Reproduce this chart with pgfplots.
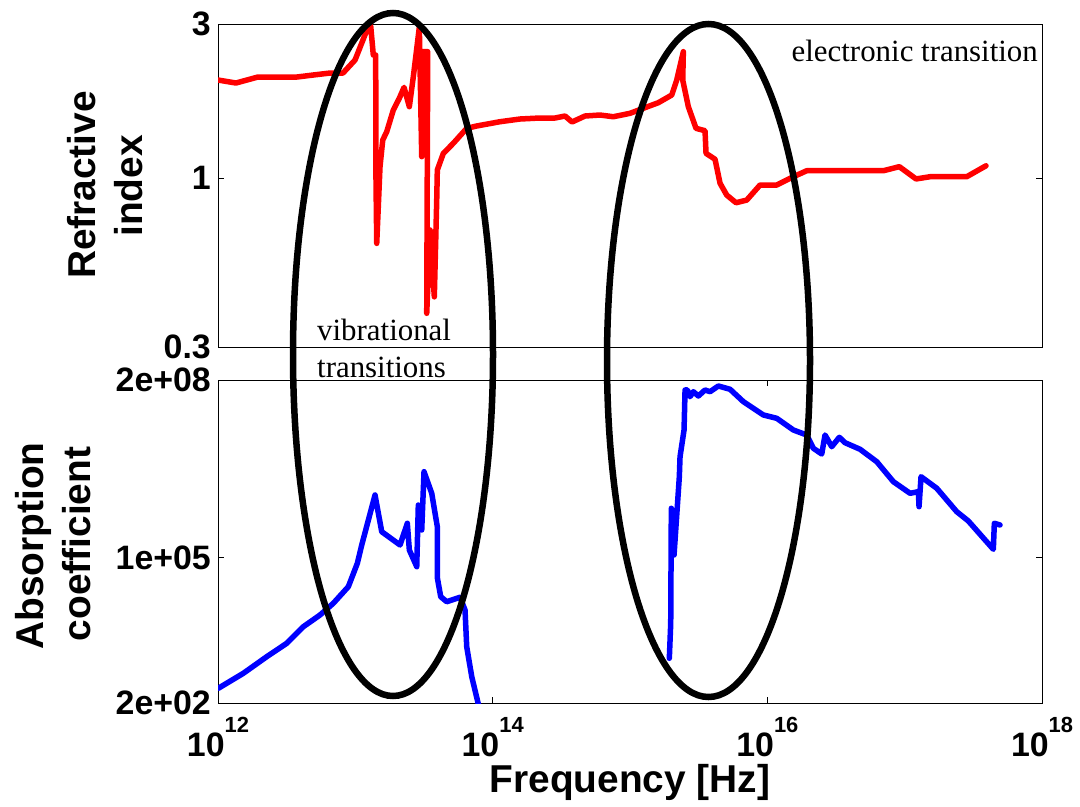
\documentclass[border=0pt]{standalone}
\usepackage{fontspec}
\setmainfont{Liberation Sans}
\newfontfamily\seriffont{Liberation Serif}
\usepackage{pgfplots}
\pgfplotsset{compat=1.18}

\newcommand\labfont{\fontsize{39}{47}\selectfont\bfseries}
\newcommand\tickfont{\fontsize{34}{34}\selectfont\bfseries}
\newcommand\annfont{\seriffont\fontsize{31}{37}\selectfont}
\newcommand\dec[1]{10\raisebox{24bp}{\fontsize{22}{22}\selectfont #1}}

\pgfplotsset{
  panelbox/.style={
    scale only axis, width=824bp, height=323bp,
    xmin=1e12, xmax=1e18,
    axis line style={line width=1bp},
    every tick/.style={black, line width=0.8bp},
    major tick length=6bp,
    tick align=inside, tick pos=both,
    minor tick num=0,
    ticklabel style={font=\tickfont},
    yticklabel style={anchor=east, inner sep=0pt},
    yticklabel shift=7bp,
  },
  curve/.style={line width=5.5bp, line join=round, line cap=round},
}
\tikzset{declabel/.style={anchor=base, inner sep=0pt, font=\tickfont, yshift=-53bp}}

\begin{document}
\begin{tikzpicture}
\useasboundingbox (0,0) rectangle (1080bp,-807bp);

% refractive index
\begin{axis}[xmode=log, ymode=log, panelbox, at={(218bp,-347bp)}, anchor=south west,
  ymin=0.3, ymax=3, ytick={0.3,1,3}, yticklabels={0.3,1,3},
  xtick=\empty]
\addplot[curve, red] coordinates {
(1.0e12,2.012) (1.35e12,1.970) (1.955e12,2.056) (3.76e12,2.056) (4.92e12,2.085)
(6.54e12,2.115) (8.13e12,2.115) (9.95e12,2.321) (1.243e13,2.95) (1.294e13,2.95)
(1.351e13,2.405) (1.407e13,2.405) (1.410e13,1.085) (1.431e13,0.628) (1.512e13,1.085)
(1.583e13,1.312) (1.692e13,1.392) (1.890e13,1.625) (2.090e13,1.767) (2.262e13,1.910)
(2.472e13,1.664) (2.643e13,2.060) (2.923e13,2.93) (3.043e13,1.165) (3.095e13,2.463)
(3.365e13,2.463) (3.309e13,0.3815) (3.498e13,0.691) (3.758e13,0.429) (3.913e13,0.855)
(3.953e13,1.060) (4.372e13,1.193) (5.169e13,1.282) (6.47e13,1.426) (7.65e13,1.450)
(1.131e14,1.495) (1.581e14,1.524) (2.212e14,1.535) (2.844e14,1.535) (3.364e14,1.557)
(3.782e14,1.492) (4.704e14,1.557) (6.046e14,1.568) (7.56e14,1.549) (1.0e15,1.587)
(1.250e15,1.645) (1.607e15,1.712) (2.012e15,1.808) (2.188e15,2.012) (2.445e15,2.463)
(2.420e15,2.012) (2.658e15,1.664) (3.024e15,1.426) (3.517e15,1.402) (3.577e15,1.193)
(4.159e15,1.144) (4.523e15,0.964) (5.06e15,0.886) (5.916e15,0.839) (7.077e15,0.855)
(8.845e15,0.952) (1.170e16,0.952) (1.546e16,1.010) (1.935e16,1.054) (6.99e16,1.054)
(9.14e16,1.085) (1.210e17,0.994) (1.530e17,1.010) (2.83e17,1.010) (3.91e17,1.092)
};
\end{axis}

% absorption coefficient
\begin{axis}[xmode=log, ymode=log, panelbox, at={(218bp,-703bp)}, anchor=south west,
  clip mode=individual,
  ymin=200, ymax=2e8, ytick={200,1e5,2e8}, yticklabels={2e+02,1e+05,2e+08},
  xtick={1e12,1e14,1e16,1e18}, xticklabels={},
  xlabel={Frequency [Hz]},
  xlabel style={at={(axis description cs:0.5,-0.276)}, anchor=base, font=\labfont}]
\addplot[curve, blue] coordinates {
(1.005e12,375) (1.528e12,712) (2.262e12,1449) (3.164e12,2570) (4.180e12,5229)
(5.53e12,8627) (6.91e12,14230) (8.89e12,28940) (1.034e13,78760) (1.113e13,1.723e5)
(1.391e13,1.462e6) (1.556e13,3.042e5) (2.115e13,1.723e5) (2.390e13,4.359e5) (2.472e13,1.391e5)
(2.799e13,68100) (2.874e13,9.53e5) (3.043e13,3.272e5) (3.162e13,3.963e6) (3.598e13,1.573e6)
(3.953e13,3.768e5) (3.96e13,41450) (4.184e13,18870) (4.627e13,15230) (5.783e13,18390)
(6.29e13,10680) (6.47e13,2223) (7.04e13,616) (8.04e13,150)
};
\addplot[curve, blue] coordinates {
(1.933e15,1353) (1.979e15,6047) (1.999e15,8.277e5) (2.092e15,1.123e5) (2.286e15,3.199e6)
(2.313e15,7.524e6) (2.474e15,2.358e7) (2.516e15,1.305e8) (2.615e15,1.305e8) (2.735e15,9.80e7)
(2.891e15,1.213e8) (3.144e15,1.009e8) (3.517e15,1.305e8) (3.824e15,1.213e8) (4.397e15,1.548e8)
(5.35e15,1.345e8) (6.69e15,7.913e7) (9.35e15,4.479e7) (1.170e16,3.89e7) (1.546e16,2.358e7)
(1.935e16,1.904e7) (2.161e16,1.078e7) (2.489e16,8.45e6) (2.630e16,1.904e7) (2.943e16,1.154e7)
(3.343e16,1.726e7) (3.678e16,1.369e7) (4.73e16,1.033e7) (6.26e16,6.076e6) (8.27e16,2.583e6)
(1.094e17,1.573e6) (1.257e17,1.684e6) (1.272e17,8.86e5) (1.315e17,3.199e6) (1.712e17,1.948e6)
(2.393e17,7.157e5) (2.907e17,4.808e5) (4.42e17,1.433e5) (4.496e17,4.359e5) (4.946e17,4.053e5)
};
% decade labels under the frequency axis
\node[declabel] at (axis cs:1e12,200) {\dec{12}};
\node[declabel] at (axis cs:1e14,200) {\dec{14}};
\node[declabel] at (axis cs:1e16,200) {\dec{16}};
\node[declabel] at (axis cs:1e18,200) {\dec{18}};
\end{axis}

% axis titles, one node per line
\node[rotate=90, anchor=base, inner sep=0pt, font=\labfont] at (95bp,-185bp) {Refractive};
\node[rotate=90, anchor=base, inner sep=0pt, font=\labfont] at (142bp,-186bp) {index};
\node[rotate=90, anchor=base, inner sep=0pt, font=\labfont] at (43bp,-546bp) {Absorption};
\node[rotate=90, anchor=base, inner sep=0pt, font=\labfont] at (90bp,-544bp) {coefficient};

% transition regions
\draw[line width=6.5bp] (393bp,-354.5bp) ellipse [x radius=100bp, y radius=341.5bp];
\draw[line width=6.5bp] (708.5bp,-360.5bp) ellipse [x radius=101.5bp, y radius=336.5bp];

\node[anchor=base east, inner sep=0pt, font=\annfont] at (1038bp,-61bp) {electronic transition};
\node[anchor=base west, inner sep=0pt, font=\annfont] at (317bp,-340bp) {vibrational};
\node[anchor=base west, inner sep=0pt, font=\annfont] at (317bp,-377bp) {transitions};
\end{tikzpicture}
\end{document}
